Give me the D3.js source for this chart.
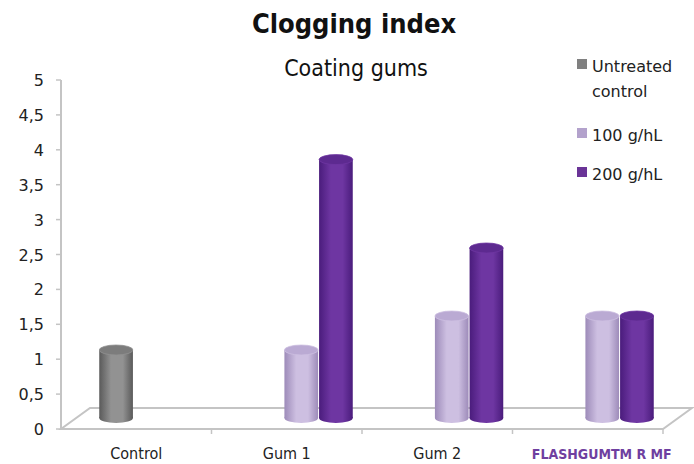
<!DOCTYPE html>
<html>
<head>
<meta charset="utf-8">
<script src="https://cdn.jsdelivr.net/npm/d3@7"></script>
<style>
  html, body { margin: 0; padding: 0; background: #fff; }
  svg { display: block; font-family: "DejaVu Sans", sans-serif; }
  .cond { font-family: "DejaVu Sans Condensed", "DejaVu Sans", sans-serif; font-stretch: condensed; }
</style>
</head>
<body>
<div id="chart"></div>
<script>
// Clogging index — 3D-style clustered cylinders, drawn flat with gradients.
const categories = ["Control", "Gum 1", "Gum 2", "FLASHGUMTM R MF"];
const seriesNames = ["Untreated control", "100 g/hL", "200 g/hL"];
const untreated = [1, null, null, null];
const g100 = [null, 1, 1.5, 1.5];
const g200 = [null, 3.8, 2.5, 1.5];
const yTicks = [0, 0.5, 1, 1.5, 2, 2.5, 3, 3.5, 4, 4.5, 5];

(function () {
  const W = 694, H = 464;
  const DX = 29, DY = -21;          // floor depth offset
  const MID = { x: DX / 2, y: DY / 2 };

  const svg = d3.select("#chart").append("svg")
    .attr("width", W).attr("height", H);

  const x = d3.scaleBand().domain(categories).range([61, 663]);
  const slot = d3.scaleBand().domain(seriesNames).range([-52, 52]);
  const y = d3.scaleLinear().domain([0, 5]).range([429, 80]);
  // bars stand in the middle of the floor, slightly shorter per unit
  const yb = d3.scaleLinear().domain([0, 5]).range([418, 418 - 5 * 68]);

  const palette = {
    "Untreated control": { edge: "#5a5a5a", mid: "#929292", top: "#7c7c7c", key: "#808080" },
    "100 g/hL": { edge: "#9d8bb9", mid: "#cdbfe1", top: "#baaad3", key: "#b3a2cc" },
    "200 g/hL": { edge: "#4a1c7c", mid: "#6e36a2", top: "#5d2a90", key: "#6a3497" }
  };

  const defs = svg.append("defs");
  seriesNames.forEach((s, i) => {
    const p = palette[s];
    const gr = defs.append("linearGradient").attr("id", "cyl" + i)
      .attr("x1", "0%").attr("x2", "100%");
    gr.append("stop").attr("offset", "0%").attr("stop-color", p.edge);
    gr.append("stop").attr("offset", "35%").attr("stop-color", p.mid);
    gr.append("stop").attr("offset", "70%").attr("stop-color", p.mid);
    gr.append("stop").attr("offset", "100%").attr("stop-color", p.edge);
  });

  // title
  svg.append("text").attr("class", "cond").attr("x", 354).attr("y", 33).attr("text-anchor", "middle")
    .attr("font-size", 27).attr("font-weight", "bold").attr("fill", "#111")
    .text("Clogging index");
  svg.append("text").attr("class", "cond").attr("x", 356).attr("y", 76).attr("text-anchor", "middle")
    .attr("font-size", 23).attr("fill", "#111")
    .text("Coating gums");

  // floor + walls
  const grid = "#c4c4c4";
  const x0 = x.range()[0], x1 = x.range()[1], y0 = y(0);
  svg.append("path")
    .attr("d", `M${x0},${y0} L${x1},${y0} L${x1 + DX},${y0 + DY} L${x0 + DX},${y0 + DY} Z`)
    .attr("fill", "none").attr("stroke", grid).attr("stroke-width", 2);
  svg.append("line").attr("x1", x0).attr("x2", x0).attr("y1", y(5)).attr("y2", y0)
    .attr("stroke", grid).attr("stroke-width", 2);

  // y ticks
  svg.append("g").selectAll("line").data(yTicks).join("line")
    .attr("x1", x0 - 5).attr("x2", x0).attr("y1", d => y(d)).attr("y2", d => y(d))
    .attr("stroke", grid).attr("stroke-width", 1.5);
  svg.append("g").selectAll("text").data(yTicks).join("text")
    .attr("x", 44).attr("y", d => y(d) + 6).attr("text-anchor", "end")
    .attr("font-size", 16).attr("fill", "#222")
    .text(d => String(d).replace(".", ","));

  // category ticks
  const catTicks = categories.map(c => x(c)).concat([x1]).slice(1);
  svg.append("g").selectAll("line").data(catTicks).join("line")
    .attr("x1", d => d).attr("x2", d => d).attr("y1", y0).attr("y2", y0 + 5)
    .attr("stroke", grid).attr("stroke-width", 1.5);

  // x labels
  svg.append("g").selectAll("text").data(categories).join("text")
    .attr("class", "cond")
    .attr("x", (d, i) => x(d) + x.bandwidth() / 2 + (i === 3 ? 14 : 0))
    .attr("y", 459).attr("text-anchor", "middle")
    .attr("font-size", (d, i) => i === 3 ? 14 : 16)
    .attr("font-weight", (d, i) => i === 3 ? "bold" : "normal")
    .attr("fill", (d, i) => i === 3 ? "#6f3fa0" : "#222")
    .text(d => d);

  // cylinders
  const series = [untreated, g100, g200];
  const rows = [];
  series.forEach((vals, si) => vals.forEach((v, ci) => {
    if (v != null) rows.push({ s: seriesNames[si], si, c: categories[ci], v });
  }));
  const ry = 5;
  const bars = svg.append("g").selectAll("g").data(rows).join("g");
  bars.each(function (d) {
    const g = d3.select(this);
    const w = slot.bandwidth() - 1;
    const cx = x(d.c) + x.bandwidth() / 2 + MID.x + slot(d.s) + slot.bandwidth() / 2;
    const base = yb(0), top = yb(d.v);
    const fill = `url(#cyl${d.si})`;
    g.append("ellipse").attr("cx", cx).attr("cy", base).attr("rx", w / 2).attr("ry", ry)
      .attr("fill", fill);
    g.append("rect").attr("x", cx - w / 2).attr("y", top).attr("width", w)
      .attr("height", base - top).attr("fill", fill);
    g.append("ellipse").attr("cx", cx).attr("cy", top).attr("rx", w / 2).attr("ry", ry)
      .attr("fill", palette[d.s].top)
      .attr("stroke", palette[d.s].mid).attr("stroke-width", 0.8);
  });

  // legend
  const leg = svg.append("g").attr("font-size", 16).attr("fill", "#222");
  const legY = [59, 128, 167];
  seriesNames.forEach((s, i) => {
    leg.append("rect").attr("x", 577).attr("y", legY[i]).attr("width", 10).attr("height", 10)
      .attr("fill", palette[s].key);
  });
  leg.append("text").attr("x", 592).attr("y", 72).text("Untreated");
  leg.append("text").attr("x", 592).attr("y", 97).text("control");
  leg.append("text").attr("x", 592).attr("y", 141).text("100 g/hL");
  leg.append("text").attr("x", 592).attr("y", 180).text("200 g/hL");
})();
</script>
</body>
</html>
